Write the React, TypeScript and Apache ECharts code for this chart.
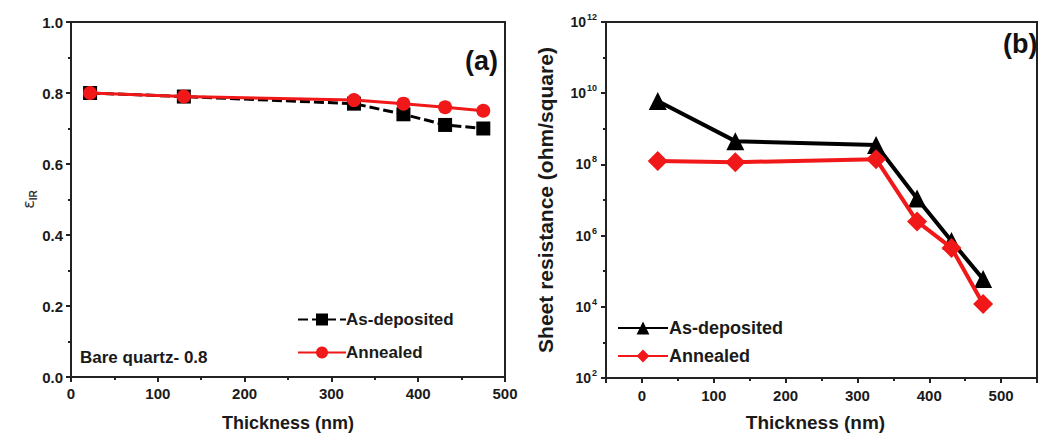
import React, { useEffect, useRef } from "react";
import * as echarts from "echarts";

const thickness = [22, 130, 326, 383, 431, 475];
const emissivityAsDeposited = [0.8, 0.79, 0.77, 0.74, 0.71, 0.7];
const emissivityAnnealed = [0.8, 0.79, 0.78, 0.77, 0.76, 0.75];
const resistanceAsDeposited = [6e9, 4.5e8, 3.5e8, 1.1e7, 7e5, 6e4];
const resistanceAnnealed = [1.25e8, 1.15e8, 1.4e8, 2.5e6, 4.5e5, 1.2e4];
const seriesNames = ["As-deposited", "Annealed"];

const RED = "#f01818";
const BLACK = "#000000";
const AXIS = "#222222";
const FONT = "Liberation Sans, Arial, sans-serif";

const pairs = (xs: number[], ys: number[]) => xs.map((x, i) => [x, ys[i]]);

export default function App() {
  const ref = useRef<HTMLDivElement>(null);
  useEffect(() => {
    const chart = echarts.init(ref.current!, null, { renderer: "svg" });
    const axisLine = { show: true, onZero: false, lineStyle: { color: AXIS, width: 2 } };
    const tickLabel = { color: "#1a1a1a", fontSize: 15, fontWeight: "bold", fontFamily: FONT };
    const option: any = {
      animation: false,
      backgroundColor: "#fff",
      textStyle: { fontFamily: FONT },
      grid: [
        { left: 71, top: 22, width: 434, height: 356, show: true, borderColor: AXIS, borderWidth: 2, backgroundColor: "transparent" },
        { left: 606, top: 22, width: 443, height: 359, show: true, borderColor: AXIS, borderWidth: 2, backgroundColor: "transparent" },
      ],
      xAxis: [
        {
          gridIndex: 0, type: "value", min: 0, max: 500, interval: 100,
          name: "Thickness (nm)", nameLocation: "middle", nameGap: 37,
          nameTextStyle: { fontSize: 18, fontWeight: "bold", color: "#1a1a1a", fontFamily: FONT },
          axisLine, axisTick: { show: true, length: 5, lineStyle: { color: AXIS, width: 2 } },
          minorTick: { show: true, splitNumber: 2, length: 3, lineStyle: { color: AXIS, width: 2 } },
          axisLabel: { ...tickLabel, margin: 9 }, splitLine: { show: false },
        },
        {
          gridIndex: 1, type: "value", min: -50, max: 550, splitNumber: 6,
          name: "Thickness (nm)", nameLocation: "middle", nameGap: 35,
          nameTextStyle: { fontSize: 19, fontWeight: "bold", color: "#1a1a1a", fontFamily: FONT, padding: [0, 0, 0, -12] },
          axisLine, axisTick: { show: true, length: 5, lineStyle: { color: AXIS, width: 2 } },
          minorTick: { show: true, splitNumber: 2, length: 3, lineStyle: { color: AXIS, width: 2 } },
          axisLabel: {
            ...tickLabel, margin: 10,
            formatter: (v: number) => (v < 0 || v > 500 ? "" : String(v)),
          },
          splitLine: { show: false },
        },
      ],
      yAxis: [
        {
          gridIndex: 0, type: "value", min: 0, max: 1, interval: 0.2,
          name: "{e|ε}{s|IR}", nameLocation: "middle", nameGap: 20,
          nameTextStyle: {
            rich: {
              e: { fontSize: 16, color: "#333", fontFamily: "DejaVu Sans" },
              s: { fontSize: 10, color: "#333", fontWeight: "bold", padding: [9, 0, 0, 0] },
            },
          },
          axisLine, axisTick: { show: true, length: 5, lineStyle: { color: AXIS, width: 2 } },
          minorTick: { show: true, splitNumber: 2, length: 3, lineStyle: { color: AXIS, width: 2 } },
          axisLabel: { ...tickLabel, margin: 8, formatter: (v: number) => v.toFixed(1) },
          splitLine: { show: false },
        },
        {
          gridIndex: 1, type: "log", logBase: 10, min: 1e2, max: 1e12,
          name: "Sheet resistance (ohm/square)", nameLocation: "middle", nameGap: 50,
          nameTextStyle: { fontSize: 21, fontWeight: "bold", color: "#1a1a1a", fontFamily: FONT },
          axisLine, axisTick: { show: true, length: 3, lineStyle: { color: AXIS, width: 2 } },
          axisLabel: {
            margin: 9,
            formatter: (v: number) => {
              const e = Math.round(Math.log10(v));
              return e % 2 === 0 ? `{b|10}{s|${e}}` : "";
            },
            rich: {
              b: { fontSize: 14, fontWeight: "bold", color: "#1a1a1a", fontFamily: FONT },
              s: { fontSize: 9, fontWeight: "bold", color: "#1a1a1a", fontFamily: FONT, padding: [0, 0, 10, 1] },
            },
          },
          splitLine: { show: false },
        },
        {
          gridIndex: 1, type: "value", min: 2, max: 12, interval: 2, position: "left",
          axisLine: { show: false, onZero: false }, axisLabel: { show: false }, splitLine: { show: false },
          axisTick: { show: true, length: 5, lineStyle: { color: AXIS, width: 2 } },
        },
      ],
      legend: [
        {
          left: 292, top: 306, orient: "vertical", itemWidth: 48, itemHeight: 15, itemGap: 16,
          data: seriesNames,
          textStyle: { fontSize: 17, fontWeight: "bold", color: "#1a1a1a", fontFamily: FONT, padding: [0, 0, 0, -5] },
        },
        {
          left: 612, top: 314, orient: "vertical", itemWidth: 50, itemHeight: 16, itemGap: 10,
          data: seriesNames.map((n) => n + " (b)"),
          formatter: (n: string) => n.replace(" (b)", ""),
          textStyle: { fontSize: 18, fontWeight: "bold", color: "#1a1a1a", fontFamily: FONT, padding: [0, 0, 0, -4] },
        },
      ],
      graphic: [
        { type: "text", right: 1040 - 498, top: 47, style: { text: "(a)", fontSize: 27, fontWeight: "bold", fill: "#111", fontFamily: FONT } },
        { type: "text", left: 1003, top: 30, style: { text: "(b)", fontSize: 27, fontWeight: "bold", fill: "#111", fontFamily: FONT } },
        { type: "text", left: 80, top: 349, style: { text: "Bare quartz- 0.8", fontSize: 17, fontWeight: "bold", fill: "#1a1a1a", fontFamily: FONT } },
      ],
      series: [
        {
          name: seriesNames[0], type: "line", xAxisIndex: 0, yAxisIndex: 0,
          data: pairs(thickness, emissivityAsDeposited),
          symbol: "rect", symbolSize: 14,
          lineStyle: { color: BLACK, width: 3, type: [10, 4] },
          itemStyle: { color: BLACK }, z: 2,
        },
        {
          name: seriesNames[1], type: "line", xAxisIndex: 0, yAxisIndex: 0,
          data: pairs(thickness, emissivityAnnealed),
          symbol: "circle", symbolSize: 14,
          lineStyle: { color: RED, width: 3 },
          itemStyle: { color: RED }, z: 3,
        },
        {
          name: seriesNames[0] + " (b)", type: "line", xAxisIndex: 1, yAxisIndex: 1,
          data: pairs(thickness, resistanceAsDeposited),
          symbol: "triangle", symbolSize: 18,
          lineStyle: { color: BLACK, width: 4 },
          itemStyle: { color: BLACK }, z: 2,
        },
        {
          name: seriesNames[1] + " (b)", type: "line", xAxisIndex: 1, yAxisIndex: 1,
          data: pairs(thickness, resistanceAnnealed),
          symbol: "diamond", symbolSize: 20,
          lineStyle: { color: RED, width: 4 },
          itemStyle: { color: RED }, z: 3,
        },
      ],
    };
    chart.setOption(option);
    return () => chart.dispose();
  }, []);
  return (
    <div
      ref={ref}
      style={{ position: "absolute", left: 0, top: 0, width: 1040, height: 437, background: "#fff" }}
    />
  );
}
